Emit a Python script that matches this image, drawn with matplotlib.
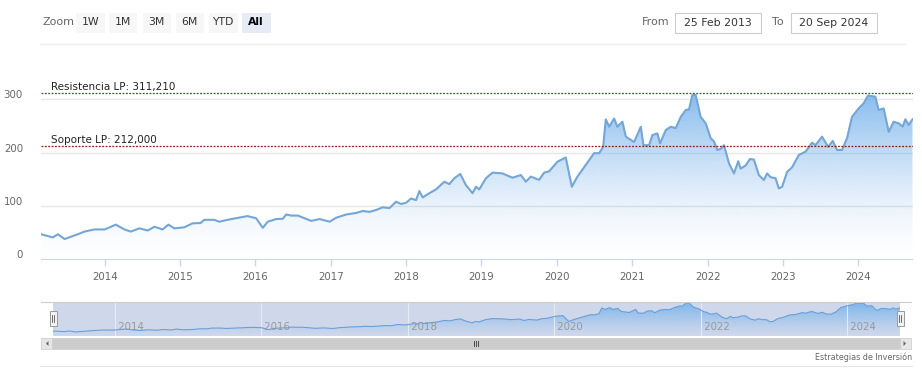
import numpy as np
import pandas as pd
import matplotlib
matplotlib.use("Agg")
import matplotlib.pyplot as plt
import matplotlib.dates as mdates
import matplotlib.colors as mcolors
from matplotlib.patches import Rectangle, Polygon
from matplotlib.transforms import ScaledTranslation

W, H = 922, 378

# fecha (año decimal) y cotización
t_year = [2013.153, 2013.31, 2013.377, 2013.466, 2013.642, 2013.731, 2013.863, 2014.0,
          2014.146, 2014.261, 2014.345, 2014.46, 2014.57, 2014.659, 2014.769, 2014.844,
          2014.924, 2015.056, 2015.166, 2015.272, 2015.321, 2015.454, 2015.52, 2015.63,
          2015.74, 2015.895, 2016.01, 2016.098, 2016.164, 2016.276, 2016.363, 2016.408,
          2016.474, 2016.562, 2016.651, 2016.74, 2016.85, 2016.982, 2017.071, 2017.203,
          2017.336, 2017.423, 2017.512, 2017.601, 2017.689, 2017.777, 2017.866, 2017.932,
          2017.999, 2018.065, 2018.131, 2018.175, 2018.219, 2018.307, 2018.396, 2018.506,
          2018.573, 2018.639, 2018.718, 2018.794, 2018.881, 2018.926, 2018.97, 2019.059,
          2019.146, 2019.279, 2019.411, 2019.523, 2019.589, 2019.655, 2019.765, 2019.832,
          2019.898, 2020.008, 2020.119, 2020.199, 2020.273, 2020.384, 2020.494, 2020.561,
          2020.614, 2020.649, 2020.693, 2020.759, 2020.803, 2020.869, 2020.914, 2020.981,
          2021.024, 2021.113, 2021.148, 2021.223, 2021.267, 2021.333, 2021.369, 2021.445,
          2021.511, 2021.577, 2021.643, 2021.71, 2021.753, 2021.797, 2021.842, 2021.908,
          2021.975, 2022.041, 2022.085, 2022.129, 2022.174, 2022.218, 2022.284, 2022.35,
          2022.407, 2022.439, 2022.505, 2022.562, 2022.615, 2022.681, 2022.747, 2022.791,
          2022.836, 2022.902, 2022.946, 2022.99, 2023.056, 2023.122, 2023.211, 2023.3,
          2023.387, 2023.432, 2023.52, 2023.6, 2023.662, 2023.719, 2023.785, 2023.851,
          2023.917, 2024.006, 2024.072, 2024.129, 2024.227, 2024.271, 2024.337, 2024.404,
          2024.469, 2024.536, 2024.589, 2024.625, 2024.668, 2024.719]
price = [47, 41, 47, 38, 47, 52, 56, 56,
         65, 56, 52, 58, 54, 61, 56, 65,
         58, 60, 67.5, 68, 74, 74, 70.5, 74,
         77, 81, 77, 59, 70.5, 75.5, 76, 84,
         82, 82, 77, 72, 75.5, 70.5, 78, 84,
         87, 90.5, 89, 92.5, 97.5, 96, 108, 103.7,
         106, 114, 111, 128, 116, 124, 131, 145.5,
         141, 152, 160, 139, 124, 136, 131, 152,
         162.5, 161, 153, 158, 145.5, 155, 149, 162.5,
         165, 183, 191, 136, 155, 177, 199, 199,
         211, 262.5, 248.6, 264, 248.6, 258, 230, 223.7,
         220, 248.6, 214, 214, 233, 236, 217.5, 242.5,
         248.6, 246, 267, 280, 281, 308, 308, 267,
         255, 227, 221, 205, 207, 214, 180, 161,
         184, 170, 176, 188, 187, 158, 148.7, 161,
         154, 152, 133, 136, 164, 172.5, 195.6, 201.8,
         218.7, 214, 230, 211, 222, 205, 205, 227,
         267, 283, 292.5, 307, 305, 280, 283, 239,
         258, 255, 249, 262.5, 252, 262.5]

resistencia = 311.21
soporte = 212.0
y_ticks = [0, 100, 200, 300]
nav_years = [2014, 2016, 2018, 2020, 2022, 2024]
zoom_buttons = ["1W", "1M", "3M", "6M", "YTD", "All"]
date_from, date_to = "25 Feb 2013", "20 Sep 2024"


def to_date(y):
    y0 = int(np.floor(y))
    a = pd.Timestamp(year=y0, month=1, day=1)
    b = pd.Timestamp(year=y0 + 1, month=1, day=1)
    return a + (b - a) * (y - y0)


x = mdates.date2num(pd.to_datetime([to_date(v) for v in t_year]))
y = np.array(price, dtype=float)
xmin, xmax = x[0], x[-1]


def fx(px):
    return px / W


def fy(py):
    return 1 - py / H


def gradient_fill(ax, ytop, power):
    poly = Polygon(np.column_stack([np.r_[x[0], x, x[-1]], np.r_[0, y, 0]]),
                   closed=True, facecolor="none", edgecolor="none")
    ax.add_patch(poly)
    g = np.zeros((256, 1, 4))
    g[..., :3] = mcolors.to_rgb("#7cb5ec")
    g[:, 0, 3] = np.linspace(0, 1, 256) ** power
    im = ax.imshow(g, aspect="auto", extent=[xmin, xmax, 0, ytop], origin="lower",
                   zorder=1, interpolation="bilinear")
    im.set_clip_path(poly)


fig = plt.figure(figsize=(W / 100, H / 100), dpi=100)

# ---- main chart
y0_px, top_px = 259.3, 59.3
ymax = (y0_px - top_px) / 0.5333
ax = fig.add_axes([fx(41), fy(y0_px), fx(912.5) - fx(41), (y0_px - top_px) / H])
gradient_fill(ax, 330, 1.5)
ax.plot(x, y, color="#74a6d6", lw=1.5, zorder=3, solid_joinstyle="round")
for v in y_ticks[1:]:
    ax.axhline(v, color="#e6e6e6", lw=1, zorder=0)
ax.axhline(resistencia, color="#2f5a2a", lw=0.9, ls=(0, (1.5, 1.2)), zorder=4)
ax.axhline(soporte, color="#8b1a1a", lw=0.9, ls=(0, (1.5, 1.2)), zorder=4)
ax.text(fx(51), fy(87), "Resistencia LP: 311,210", transform=fig.transFigure,
        fontsize=7.5, color="#222222", va="center", ha="left")
ax.text(fx(51), fy(140), "Soporte LP: 212,000", transform=fig.transFigure,
        fontsize=7.5, color="#222222", va="center", ha="left")
ax.set_xlim(xmin, xmax)
ax.set_ylim(0, ymax)
ax.set_yticks(y_ticks)
ax.xaxis.set_major_locator(mdates.YearLocator())
ax.xaxis.set_major_formatter(mdates.DateFormatter("%Y"))
for s in ["top", "right", "left"]:
    ax.spines[s].set_visible(False)
ax.spines["bottom"].set_color("#ccd6eb")
ax.tick_params(axis="x", colors="#ccd6eb", labelcolor="#666666", labelsize=7.4,
               length=5, width=1, pad=4)
ax.tick_params(axis="y", length=0, labelcolor="#666666", labelsize=7.4, pad=13)
off = ScaledTranslation(0, 5 / 100, fig.dpi_scale_trans)
for lab in ax.get_yticklabels():
    lab.set_transform(lab.get_transform() + off)

# ---- navigator
nav = fig.add_axes([fx(52.8), fy(336), fx(899.8) - fx(52.8), 34 / H])
nav.add_patch(Rectangle((0, 0), 1, 1, transform=nav.transAxes,
                        facecolor="#cfd8eb", edgecolor="none", zorder=0))
gradient_fill(nav, 320, 1.2)
nav.plot(x, y, color="#6a9fd8", lw=0.8, zorder=3)
nav.set_xlim(xmin, xmax)
nav.set_ylim(0, 318)
for yr in nav_years:
    xv = mdates.date2num(pd.Timestamp(year=yr, month=1, day=1))
    nav.axvline(xv, color="#e6eaf3", lw=0.8, zorder=2)
    nav.text(xv, 0.12, " " + str(yr), transform=nav.get_xaxis_transform(),
             fontsize=7.4, color="#999999", ha="left", va="bottom", zorder=4)
nav.set_xticks([])
nav.set_yticks([])
for s in nav.spines.values():
    s.set_visible(False)

# handles and outline
fig.add_artist(plt.Line2D([fx(41), fx(911)], [fy(302), fy(302)], color="#cccccc", lw=0.8))
for hx in (53, 900):
    fig.add_artist(Rectangle((fx(hx - 3.5), fy(326)), 7 / W, 15 / H, facecolor="#f2f2f2",
                             edgecolor="#999999", lw=0.7, transform=fig.transFigure, zorder=6))
    for dx in (-1, 1):
        fig.add_artist(plt.Line2D([fx(hx + dx), fx(hx + dx)], [fy(322), fy(315)],
                                  color="#333333", lw=0.5, zorder=7))

# scrollbar
fig.add_artist(Rectangle((fx(41), fy(349)), 870 / W, 11 / H, facecolor="#f2f2f2",
                         edgecolor="none", transform=fig.transFigure))
fig.add_artist(Rectangle((fx(52), fy(349)), 848 / W, 11 / H, facecolor="#cccccc",
                         edgecolor="#cccccc", lw=0.5, transform=fig.transFigure))
for bx, tri in ((41, [(46, 343.5), (48.5, 341), (48.5, 346)]),
                (900, [(906, 343.5), (903.5, 341), (903.5, 346)])):
    fig.add_artist(Rectangle((fx(bx), fy(349)), 11 / W, 11 / H, facecolor="#e6e6e6",
                             edgecolor="#cccccc", lw=0.5, transform=fig.transFigure))
    fig.add_artist(Polygon([(fx(a), fy(b)) for a, b in tri], closed=True,
                           facecolor="#666666", edgecolor="none", transform=fig.transFigure))
for gx in (474, 476, 478):
    fig.add_artist(plt.Line2D([fx(gx), fx(gx)], [fy(346), fy(341)], color="#333333", lw=0.6))

fig.text(fx(912), fy(357), "Estrategias de Inversión", fontsize=5.8, color="#666666",
         ha="right", va="center")
fig.add_artist(plt.Line2D([fx(40), fx(912)], [fy(366), fy(366)], color="#e6e6e6", lw=0.8))

# ---- range selector
fig.text(fx(42), fy(22), "Zoom", fontsize=8, color="#666666", ha="left", va="center")
bx0 = [76, 108.5, 142.5, 175.5, 209, 242]
for label, bx in zip(zoom_buttons, bx0):
    sel = label == "All"
    fig.add_artist(Rectangle((fx(bx), fy(33)), 28.5 / W, 20 / H,
                             facecolor="#e6ebf5" if sel else "#f7f7f7", edgecolor="none",
                             transform=fig.transFigure))
    fig.text(fx(bx + 14.2), fy(22), label, fontsize=7.8,
             color="#000000" if sel else "#333333",
             fontweight="bold" if sel else "normal", ha="center", va="center")

fig.text(fx(642), fy(22), "From", fontsize=8, color="#666666", ha="left", va="center")
fig.text(fx(771.5), fy(22), "To", fontsize=8, color="#666666", ha="left", va="center")
for (a, b), txt in zip([(675, 761), (791, 877)], [date_from, date_to]):
    fig.add_artist(Rectangle((fx(a), fy(33)), (b - a) / W, 20 / H, facecolor="white",
                             edgecolor="#cccccc", lw=0.8, transform=fig.transFigure))
    fig.text(fx((a + b) / 2), fy(22.5), txt, fontsize=7.8, color="#333333",
             ha="center", va="center")
fig.add_artist(plt.Line2D([fx(40), fx(905)], [fy(43.5), fy(43.5)], color="#eeeeee", lw=1))

fig.savefig("out.png", dpi=100)
